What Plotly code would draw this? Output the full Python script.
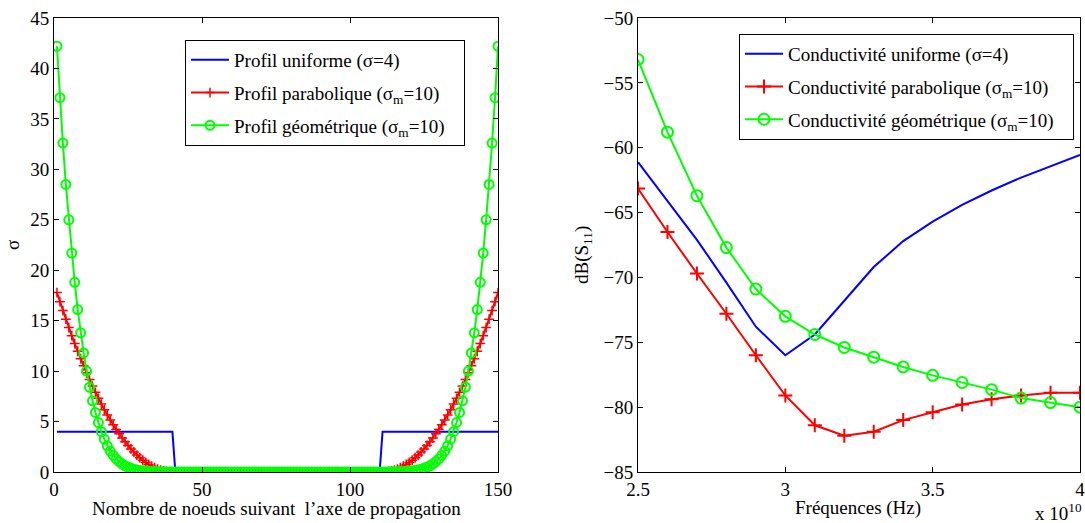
import plotly.graph_objects as go

# ---------------- Left panel data: conductivity profile vs node ----------------
nodes = list(range(1, 151))

uniform_left = [4, 4, 4, 4, 4, 4, 4, 4, 4, 4, 4, 4, 4, 4, 4, 4, 4, 4, 4, 4,
                4, 4, 4, 4, 4, 4, 4, 4, 4, 4, 4, 4, 4, 4, 4, 4, 4, 4, 4, 4]
uniform_right = [4, 4, 4, 4, 4, 4, 4, 4, 4, 4, 4, 4, 4, 4, 4, 4, 4, 4, 4, 4,
                 4, 4, 4, 4, 4, 4, 4, 4, 4, 4, 4, 4, 4, 4, 4, 4, 4, 4, 4, 4]

parab_left = [17.78, 16.88, 16.00, 15.15, 14.32, 13.51, 12.73, 11.97, 11.23, 10.52,
              9.83, 9.16, 8.52, 7.90, 7.30, 6.73, 6.18, 5.66, 5.15, 4.68,
              4.22, 3.79, 3.38, 2.99, 2.63, 2.29, 1.98, 1.68, 1.41, 1.17,
              0.95, 0.75, 0.57, 0.42, 0.29, 0.19, 0.11, 0.05, 0.01, 0.0]
parab_right = [0.0, 0.01, 0.05, 0.11, 0.19, 0.29, 0.42, 0.57, 0.75, 0.95,
               1.17, 1.41, 1.68, 1.98, 2.29, 2.63, 2.99, 3.38, 3.79, 4.22,
               4.68, 5.15, 5.66, 6.18, 6.73, 7.30, 7.90, 8.52, 9.16, 9.83,
               10.52, 11.23, 11.97, 12.73, 13.51, 14.32, 15.15, 16.00, 16.88, 17.78]

geo_left = [42.2, 37.1, 32.6, 28.5, 25.0, 21.7, 18.8, 16.1, 13.8, 11.8,
            10.0, 8.4, 7.05, 5.9, 4.9, 4.0, 3.25, 2.6, 2.08, 1.65,
            1.3, 1.02, 0.8, 0.62, 0.48, 0.37, 0.28, 0.21, 0.16, 0.12,
            0.09, 0.07, 0.05, 0.04, 0.03, 0.02, 0.015, 0.01, 0.005, 0.0]
geo_right = [0.0, 0.005, 0.01, 0.015, 0.02, 0.03, 0.04, 0.05, 0.07, 0.09,
             0.12, 0.16, 0.21, 0.28, 0.37, 0.48, 0.62, 0.8, 1.02, 1.3,
             1.65, 2.08, 2.6, 3.25, 4.0, 4.9, 5.9, 7.05, 8.4, 10.0,
             11.8, 13.8, 16.1, 18.8, 21.7, 25.0, 28.5, 32.6, 37.1, 42.2]

# nodes 41..110 : zero conductivity (70 values)
middle_zero = [0, 0, 0, 0, 0, 0, 0, 0, 0, 0, 0, 0, 0, 0, 0, 0, 0, 0, 0, 0,
               0, 0, 0, 0, 0, 0, 0, 0, 0, 0, 0, 0, 0, 0, 0, 0, 0, 0, 0, 0,
               0, 0, 0, 0, 0, 0, 0, 0, 0, 0, 0, 0, 0, 0, 0, 0, 0, 0, 0, 0,
               0, 0, 0, 0, 0, 0, 0, 0, 0, 0]

sigma_uniform = uniform_left + middle_zero + uniform_right
sigma_parab = parab_left + middle_zero + parab_right
sigma_geo = geo_left + middle_zero + geo_right

# ---------------- Right panel data: dB(S11) vs frequency ----------------
freq = [2.5e10, 2.6e10, 2.7e10, 2.8e10, 2.9e10, 3.0e10, 3.1e10, 3.2e10,
        3.3e10, 3.4e10, 3.5e10, 3.6e10, 3.7e10, 3.8e10, 3.9e10, 4.0e10]
s11_uniform = [-61.1, -64.1, -67.1, -70.4, -73.8, -76.0, -74.4, -71.8,
               -69.2, -67.2, -65.7, -64.4, -63.3, -62.3, -61.4, -60.55]
s11_parab = [-63.15, -66.5, -69.7, -72.8, -76.0, -79.1, -81.4, -82.2,
             -81.9, -81.0, -80.4, -79.8, -79.4, -79.1, -78.9, -78.9]
s11_geo = [-53.2, -58.8, -63.7, -67.7, -70.9, -73.0, -74.4, -75.4,
           -76.15, -76.9, -77.55, -78.1, -78.65, -79.3, -79.65, -80.0]

left_yticks = [0, 5, 10, 15, 20, 25, 30, 35, 40, 45]
left_xticks = [0, 50, 100, 150]
right_yticks = [-85, -80, -75, -70, -65, -60, -55, -50]
right_xticks = [2.5e10, 3.0e10, 3.5e10, 4.0e10]
right_xticktext = ["2.5", "3", "3.5", "4"]

BLUE = "#0000ff"
RED = "#ff0000"
GREEN = "#00ff00"
FONT = "Liberation Serif, Times New Roman, serif"
FS = 19
PAD = "\u00a0\u00a0\u00a0"  # extra right padding inside the legend boxes

fig = go.Figure()

# Left panel
fig.add_trace(go.Scatter(x=nodes, y=sigma_uniform, mode="lines",
                         line=dict(color=BLUE, width=2),
                         name="Profil uniforme (σ=4)", legendgroup="a1",
                         xaxis="x", yaxis="y", legend="legend"))
fig.add_trace(go.Scatter(x=nodes, y=sigma_parab, mode="lines+markers",
                         line=dict(color=RED, width=2),
                         marker=dict(symbol="cross-thin", size=7, color=RED,
                                     line=dict(color=RED, width=1.5)),
                         name="Profil parabolique (σ<sub>m</sub>=10)", legendgroup="a2",
                         xaxis="x", yaxis="y", legend="legend"))
fig.add_trace(go.Scatter(x=nodes, y=sigma_geo, mode="lines+markers",
                         line=dict(color=GREEN, width=2),
                         marker=dict(symbol="circle-open", size=9, color=GREEN,
                                     line=dict(color=GREEN, width=2)),
                         name="Profil géométrique (σ<sub>m</sub>=10)" + PAD, legendgroup="a3",
                         xaxis="x", yaxis="y", legend="legend"))

# Right panel
fig.add_trace(go.Scatter(x=freq, y=s11_uniform, mode="lines",
                         line=dict(color=BLUE, width=2),
                         name="Conductivité uniforme (σ=4)", legendgroup="b1",
                         xaxis="x2", yaxis="y2", legend="legend2"))
fig.add_trace(go.Scatter(x=freq, y=s11_parab, mode="lines+markers",
                         line=dict(color=RED, width=2),
                         marker=dict(symbol="cross-thin", size=10, color=RED,
                                     line=dict(color=RED, width=2)),
                         name="Conductivité parabolique (σ<sub>m</sub>=10)", legendgroup="b2",
                         xaxis="x2", yaxis="y2", legend="legend2"))
fig.add_trace(go.Scatter(x=freq, y=s11_geo, mode="lines+markers",
                         line=dict(color=GREEN, width=2),
                         marker=dict(symbol="circle-open", size=11, color=GREEN,
                                     line=dict(color=GREEN, width=2)),
                         name="Conductivité géométrique (σ<sub>m</sub>=10)" + PAD, legendgroup="b3",
                         xaxis="x2", yaxis="y2", legend="legend2"))

axis_common = dict(showgrid=False, zeroline=False, showline=True, linecolor="black",
                   linewidth=1, mirror="ticks", ticks="inside", ticklen=5,
                   tickcolor="black", automargin=False, ticklabeloverflow="allow",
                   tickfont=dict(family=FONT, size=FS, color="black"))

W, H = 1085, 523
ML, MR, MT, MB = 54, 5, 18, 51
PW = W - ML - MR
PH = H - MT - MB


def px(xp):
    return (xp - ML) / PW


def py(yp):
    return (H - MB - yp) / PH


legend_common = dict(xanchor="left", yanchor="top", bgcolor="white",
                     bordercolor="black", borderwidth=1,
                     font=dict(family=FONT, size=FS, color="black"),
                     tracegroupgap=5, traceorder="grouped", itemwidth=38)

fig.update_layout(
    width=W, height=H,
    margin=dict(l=ML, r=MR, t=MT, b=MB, autoexpand=False),
    paper_bgcolor="white", plot_bgcolor="white",
    font=dict(family=FONT, size=FS, color="black"),
    xaxis=dict(domain=[0, px(498)], range=[0, 150], tickvals=left_xticks, **axis_common),
    yaxis=dict(domain=[0, 1], range=[0, 45], tickvals=left_yticks, **axis_common),
    xaxis2=dict(domain=[px(638), 1], range=[2.5e10, 4.0e10], tickvals=right_xticks,
                ticktext=right_xticktext, anchor="y2", **axis_common),
    yaxis2=dict(domain=[0, 1], range=[-85, -50], tickvals=right_yticks, anchor="x2",
                **axis_common),
    legend=dict(x=px(185), y=py(40), **legend_common),
    legend2=dict(x=px(739), y=py(34), **legend_common),
    showlegend=True,
)

annotations = [
    dict(text="Nombre de noeuds suivant  l’axe de propagation", x=px(276), y=py(508),
         xanchor="center", yanchor="middle", showarrow=False),
    dict(text="σ", x=px(12), y=py(245), textangle=-90,
         xanchor="center", yanchor="middle", showarrow=False),
    dict(text="Fréquences (Hz)", x=px(858), y=py(508),
         xanchor="center", yanchor="middle", showarrow=False),
    dict(text="dB(S<sub>11</sub>)", x=px(583), y=py(255), textangle=-90,
         xanchor="center", yanchor="middle", showarrow=False),
    dict(text="x 10<sup>10</sup>", x=px(1084), y=py(512),
         xanchor="right", yanchor="middle", showarrow=False),
]
for a in annotations:
    a.update(xref="paper", yref="paper", font=dict(family=FONT, size=FS, color="black"))
fig.update_layout(annotations=annotations)

fig.write_html("out.html",
               config={"displayModeBar": False, "responsive": False},
               post_script="document.body.style.margin='0px';document.body.style.overflow='hidden';")
